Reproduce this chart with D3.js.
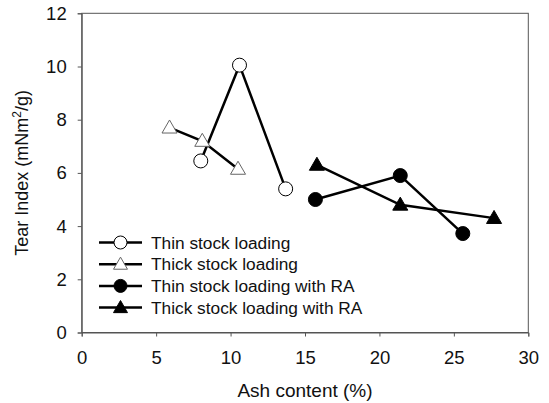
<!DOCTYPE html>
<html>
<head>
<meta charset="utf-8">
<script src="https://cdn.jsdelivr.net/npm/d3@7"></script>
<style>
  body { margin: 0; background: #fff; }
  text { font-family: "Liberation Sans", Arial, sans-serif; fill: #111; }
</style>
</head>
<body>
<script>
// data
const thinX = [8.0, 10.6, 13.7];
const thinY = [6.45, 10.05, 5.4];
const thickX = [5.9, 8.1, 10.5];
const thickY = [7.7, 7.2, 6.15];
const thinRAX = [15.7, 21.4, 25.6];
const thinRAY = [5.0, 5.9, 3.72];
const thickRAX = [15.8, 21.4, 27.7];
const thickRAY = [6.3, 4.8, 4.3];

const xTicks = [0, 5, 10, 15, 20, 25, 30];
const yTicks = [0, 2, 4, 6, 8, 10, 12];

const series = [
  { name: "Thin stock loading", xs: thinX, ys: thinY, shape: "circle", filled: false },
  { name: "Thick stock loading", xs: thickX, ys: thickY, shape: "triangle", filled: false },
  { name: "Thin stock loading with RA", xs: thinRAX, ys: thinRAY, shape: "circle", filled: true },
  { name: "Thick stock loading with RA", xs: thickRAX, ys: thickRAY, shape: "triangle", filled: true }
];

const W = 549, H = 403;
const m = { left: 81.7, right: 549 - 528.3, top: 13.3, bottom: 403 - 332.5 };

const svg = d3.select("body").append("svg")
  .attr("width", W).attr("height", H);

const x = d3.scaleLinear().domain([0, 30]).range([m.left, W - m.right]);
const y = d3.scaleLinear().domain([0, 12]).range([H - m.bottom, m.top]);

// frame
svg.append("rect")
  .attr("x", x(0)).attr("y", y(12))
  .attr("width", x(30) - x(0)).attr("height", y(0) - y(12))
  .attr("fill", "none").attr("stroke", "#555").attr("stroke-width", 1);

const xAxis = svg.append("g")
  .attr("transform", `translate(0,${y(0)})`)
  .call(d3.axisBottom(x).tickValues(xTicks).tickSize(4).tickPadding(14));
const yAxis = svg.append("g")
  .attr("transform", `translate(${x(0)},0)`)
  .call(d3.axisLeft(y).tickValues(yTicks).tickSize(4).tickPadding(11));

[xAxis, yAxis].forEach(g => {
  g.select(".domain").attr("stroke", "#555");
  g.selectAll(".tick line").attr("stroke", "#555");
  g.selectAll(".tick text").attr("font-size", 18.5).attr("fill", "#111")
    .attr("font-family", "Liberation Sans, Arial, sans-serif");
});

svg.append("text")
  .attr("x", (x(0) + x(30)) / 2).attr("y", 397)
  .attr("text-anchor", "middle").attr("font-size", 19)
  .text("Ash content (%)");

const yt = svg.append("text")
  .attr("transform", `translate(28,${(y(0) + y(12)) / 2}) rotate(-90)`)
  .attr("text-anchor", "middle").attr("font-size", 18);
yt.append("tspan").text("Tear Index (mNm");
yt.append("tspan").attr("dy", -7).attr("font-size", 12).text("2");
yt.append("tspan").attr("dy", 7).text("/g)");

function marker(g, s, cx, cy, r) {
  const fill = s.filled ? "#000" : "#fff";
  if (s.shape === "circle") {
    g.append("circle").attr("cx", cx).attr("cy", cy).attr("r", r)
      .attr("fill", fill).attr("stroke", "#000").attr("stroke-width", 1);
  } else {
    g.append("path").attr("d", d3.symbol().type(d3.symbolTriangle).size(r * r * 2))
      .attr("transform", `translate(${cx},${cy + 1})`)
      .attr("fill", fill).attr("stroke", s.filled ? "#000" : "#666").attr("stroke-width", 1);
  }
}

const line = d3.line().x(d => x(d[0])).y(d => y(d[1]));

series.forEach(s => {
  const pts = s.xs.map((v, i) => [v, s.ys[i]]);
  const g = svg.append("g");
  g.append("path").attr("d", line(pts))
    .attr("fill", "none").attr("stroke", "#000").attr("stroke-width", 2.5);
  pts.forEach(p => marker(g, s, x(p[0]), y(p[1]), 7));
});

// legend
const lg = svg.append("g");
series.forEach((s, i) => {
  const ly = 242.5 + i * 21.7;
  lg.append("line").attr("x1", 99).attr("x2", 142).attr("y1", ly).attr("y2", ly)
    .attr("stroke", "#000").attr("stroke-width", 2.5);
  marker(lg, s, 120.5, ly, 6.5);
  lg.append("text").attr("x", 151).attr("y", ly).attr("dy", "0.36em")
    .attr("font-size", 17.3).text(s.name);
});
</script>
</body>
</html>
